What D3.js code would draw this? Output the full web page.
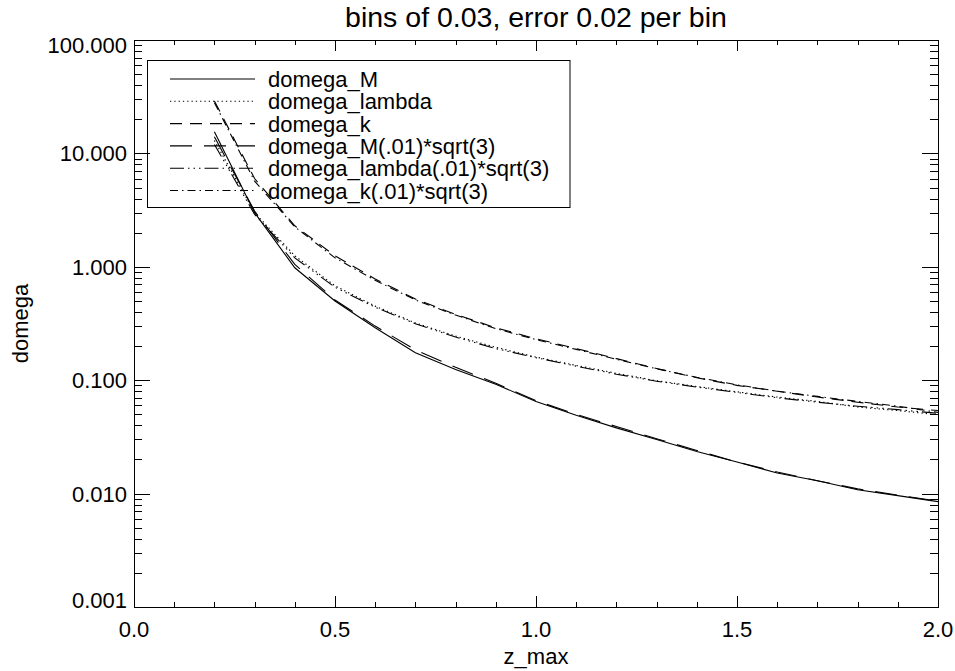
<!DOCTYPE html>
<html>
<head>
<meta charset="utf-8">
<script src="https://cdn.jsdelivr.net/npm/d3@7"></script>
<style>
  html, body { margin: 0; padding: 0; background: #fff; }
  svg { display: block; }
  text { font-family: "Liberation Sans", Arial, Helvetica, sans-serif; fill: #000; }
</style>
</head>
<body>
<svg id="chart" width="955" height="671"></svg>
<script>
// z_max sample points
const zMax = [0.2, 0.3, 0.4, 0.5, 0.6, 0.7, 0.8, 0.9, 1.0, 1.1, 1.2, 1.3, 1.4, 1.5, 1.6, 1.7, 1.8, 1.9, 2.0];

// domega series
const domegaM        = [15.5, 3.0, 0.98, 0.50, 0.29, 0.175, 0.124, 0.092, 0.065, 0.049, 0.038, 0.030, 0.0235, 0.019, 0.0152, 0.0130, 0.0108, 0.0096, 0.0085];
const domegaLambda   = [13.0, 3.0, 1.25, 0.68, 0.45, 0.32, 0.245, 0.195, 0.160, 0.135, 0.115, 0.099, 0.088, 0.079, 0.071, 0.065, 0.058, 0.054, 0.0495];
const domegaK        = [29.0, 6.0, 2.30, 1.25, 0.78, 0.52, 0.380, 0.290, 0.232, 0.190, 0.155, 0.127, 0.105, 0.090, 0.080, 0.071, 0.064, 0.058, 0.054];
const domegaM01      = [14.0, 3.1, 1.05, 0.51, 0.30, 0.185, 0.130, 0.094, 0.066, 0.050, 0.039, 0.0305, 0.024, 0.019, 0.0155, 0.0130, 0.0110, 0.0097, 0.0086];
const domegaLambda01 = [12.0, 2.9, 1.20, 0.66, 0.44, 0.315, 0.240, 0.190, 0.158, 0.133, 0.113, 0.098, 0.087, 0.078, 0.070, 0.064, 0.059, 0.055, 0.051];
const domegaK01      = [28.0, 5.7, 2.25, 1.20, 0.76, 0.51, 0.375, 0.285, 0.228, 0.187, 0.153, 0.126, 0.106, 0.091, 0.080, 0.072, 0.065, 0.059, 0.052];

const seriesNames = ["domega_M", "domega_lambda", "domega_k",
                     "domega_M(.01)*sqrt(3)", "domega_lambda(.01)*sqrt(3)", "domega_k(.01)*sqrt(3)"];
const seriesValues = [domegaM, domegaLambda, domegaK, domegaM01, domegaLambda01, domegaK01];

// axis tick labels
const xTickValues = [0.0, 0.5, 1.0, 1.5, 2.0];
const yTickValues = [0.001, 0.01, 0.1, 1, 10, 100];
const yTickLabels = ["0.001", "0.010", "0.100", "1.000", "10.000", "100.000"];

const titleText = "bins of 0.03, error 0.02 per bin";
const xTitle = "z_max";
const yTitle = "domega";

// line styles: solid, dotted, dashed, long dash, dash-dot-dot-dot, dash-dot
const dashStyles = [null, "1.3,3", "12,8", "22,12", "14,4,1.5,4,1.5,4,1.5,4", "8,4,1.5,4"];

const svg = d3.select("#chart");
const W = 955, H = 671;
const margin = { left: 134, right: W - 938, top: 40, bottom: H - 607 };
const x0 = margin.left, x1 = W - margin.right, y0 = H - margin.bottom, y1 = margin.top;

const x = d3.scaleLinear().domain([0, 2]).range([x0, x1]);
const y = d3.scaleLog().domain([0.001, 100]).range([y0, y1]);

const axisColor = "#000";

// frame
svg.append("rect")
  .attr("x", x0 + 0.5).attr("y", y1 + 0.5)
  .attr("width", x1 - x0).attr("height", y0 - y1)
  .attr("fill", "none").attr("stroke", axisColor).attr("stroke-width", 1);

// x ticks (bottom and top)
const xMinor = d3.range(0, 21).map(i => i / 10);
const gTicks = svg.append("g").attr("stroke", axisColor).attr("stroke-width", 1);
xMinor.forEach(v => {
  const major = Math.abs(v * 2 - Math.round(v * 2)) < 1e-9;
  const len = major ? 11 : 5;
  const px = Math.round(x(v)) + 0.5;
  gTicks.append("line").attr("x1", px).attr("x2", px).attr("y1", y0).attr("y2", y0 - len);
  gTicks.append("line").attr("x1", px).attr("x2", px).attr("y1", y1).attr("y2", y1 + len);
});

// y ticks (left and right), decades long, 2..9 short
const yMinor = [];
for (let e = -3; e <= 2; e++) {
  for (let m = 1; m <= 9; m++) {
    const v = m * Math.pow(10, e);
    if (v <= 100 * 1.0001) yMinor.push({ v, major: m === 1 });
  }
}
yMinor.forEach(t => {
  const len = t.major ? 16 : 8;
  const py = Math.round(y(t.v)) + 0.5;
  gTicks.append("line").attr("x1", x0).attr("x2", x0 + len).attr("y1", py).attr("y2", py);
  gTicks.append("line").attr("x1", x1).attr("x2", x1 - len).attr("y1", py).attr("y2", py);
});

// tick labels
svg.append("g").selectAll("text").data(xTickValues).join("text")
  .attr("x", d => x(d)).attr("y", 637)
  .attr("text-anchor", "middle").attr("font-size", 22)
  .text(d => d.toFixed(1));

svg.append("g").selectAll("text").data(yTickValues).join("text")
  .attr("x", 127)
  .attr("y", (d, i) => {
    let off = 8;
    if (i === 0) off = 0.5;
    if (i === yTickValues.length - 1) off = 12.7;
    return y(d) + off;
  })
  .attr("text-anchor", "end").attr("font-size", 22)
  .text((d, i) => yTickLabels[i]);

// titles
svg.append("text").attr("x", (x0 + x1) / 2).attr("y", 27)
  .attr("text-anchor", "middle").attr("font-size", 28.5).text(titleText);
svg.append("text").attr("x", (x0 + x1) / 2).attr("y", 664)
  .attr("text-anchor", "middle").attr("font-size", 22).text(xTitle);
svg.append("text").attr("transform", `translate(28,${(y0 + y1) / 2}) rotate(-90)`)
  .attr("text-anchor", "middle").attr("font-size", 22).text(yTitle);

// curves
const line = d3.line().x(d => x(d[0])).y(d => y(d[1]));
const gLines = svg.append("g").attr("fill", "none").attr("stroke", "#000").attr("stroke-width", 1.1);
seriesValues.forEach((vals, i) => {
  const p = gLines.append("path").attr("d", line(zMax.map((z, j) => [z, vals[j]])));
  if (dashStyles[i]) p.attr("stroke-dasharray", dashStyles[i]);
});

// legend
const lg = svg.append("g");
lg.append("rect").attr("x", 147.5).attr("y", 60.5).attr("width", 422.5).attr("height", 147)
  .attr("fill", "none").attr("stroke", axisColor).attr("stroke-width", 1);
const rowY = i => 79 + i * 22.3;
seriesNames.forEach((name, i) => {
  const ly = rowY(i);
  const l = lg.append("line").attr("x1", 170).attr("x2", 255).attr("y1", ly).attr("y2", ly)
    .attr("stroke", "#000").attr("stroke-width", 1.1);
  if (dashStyles[i]) l.attr("stroke-dasharray", dashStyles[i]);
  lg.append("text").attr("x", 268).attr("y", ly + 8).attr("font-size", 22).text(name);
});
</script>
</body>
</html>
